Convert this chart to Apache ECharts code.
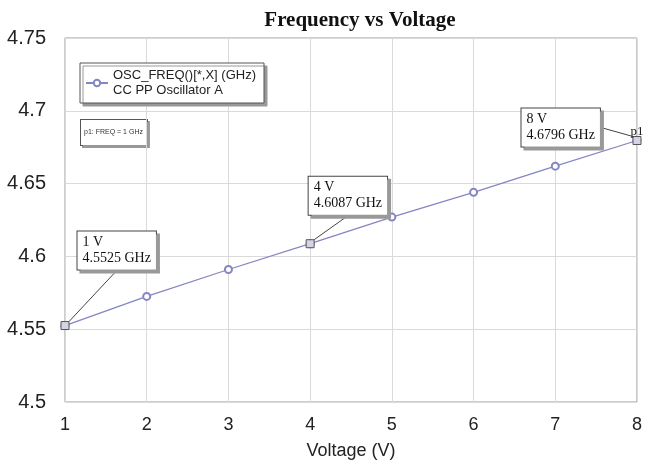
<!DOCTYPE html>
<html lang="en">
<head>
    <meta charset="UTF-8">
    <title>Frequency vs Voltage</title>
    <script src="https://cdn.jsdelivr.net/npm/echarts@6/dist/echarts.min.js"></script>
</head>
<body style="margin:0">
<div id="main" style="width: 645px;height:470px;"></div>

<script type="text/javascript">

    // chart data
    var voltages = [1, 2, 3, 4, 5, 6, 7, 8];
    var freqs = [4.5525, 4.5725, 4.591, 4.6087, 4.627, 4.644, 4.662, 4.6796];
    // marker points (index into the arrays above)
    var markerIdx = [0, 3, 7];
    var markerShift = [[8, -75], [-6, -48], [-120, -13]];

    var lineData = [];
    for (var i = 0; i < voltages.length; i++) {
        lineData.push([voltages[i], freqs[i]]);
    }
    var markData = [];
    for (var j = 0; j < markerIdx.length; j++) {
        var k = markerIdx[j];
        markData.push({
            value: [voltages[k], freqs[k]],
            name: voltages[k] + ' V\n' + freqs[k].toFixed(4) + ' GHz'
        });
    }

    var myChart = echarts.init(document.getElementById('main'));

    myChart.setOption({
        animation: false,
        title: {
            text: 'Frequency vs Voltage',
            left: 355,
            textAlign: 'center',
            top: 5,
            textStyle: {fontFamily: 'Liberation Serif', fontWeight: 'bold', fontSize: 21, color: '#111'}
        },
        grid: {
            left: 65, right: 3, top: 38, bottom: 68,
            show: true, borderColor: '#9a9a9a', borderWidth: 1
        },
        legend: {
            left: 80, top: 63,
            orient: 'vertical',
            data: ['OSC_FREQ()[*,X] (GHz)\nCC PP Oscillator A'],
            backgroundColor: '#fff',
            borderColor: '#555', borderWidth: 1,
            shadowColor: '#999', shadowOffsetX: 3, shadowOffsetY: 3, shadowBlur: 0,
            padding: [5, 8, 5, 5],
            itemWidth: 22, itemHeight: 8, itemGap: 2,
            textStyle: {fontFamily: 'Liberation Sans', fontSize: 13, color: '#222', lineHeight: 15}
        },
        xAxis: {
            type: 'value', min: 1, max: 8, interval: 1,
            name: 'Voltage (V)', nameLocation: 'middle', nameGap: 40,
            nameTextStyle: {fontFamily: 'Liberation Sans', fontSize: 18, color: '#222'},
            axisLine: {show: false}, axisTick: {show: false},
            axisLabel: {fontFamily: 'Liberation Sans', fontSize: 18, color: '#222', margin: 14},
            splitLine: {lineStyle: {color: '#dadada'}}
        },
        yAxis: {
            type: 'value', min: 4.5, max: 4.75, interval: 0.05,
            axisLine: {show: false}, axisTick: {show: false},
            axisLabel: {fontFamily: 'Liberation Sans', fontSize: 20, color: '#222', margin: 19},
            splitLine: {lineStyle: {color: '#dadada'}}
        },
        graphic: [{
            type: 'text',
            left: 80, top: 119,
            style: {
                text: 'p1: FREQ = 1 GHz',
                fontFamily: 'Liberation Sans', fontSize: 7, fill: '#333',
                backgroundColor: '#fff', borderColor: '#555', borderWidth: 1,
                padding: [9, 4, 9, 3],
                shadowColor: '#999', shadowOffsetX: 2, shadowOffsetY: 2
            }
        }],
        series: [{
            name: 'OSC_FREQ()[*,X] (GHz)\nCC PP Oscillator A',
            type: 'line',
            data: lineData,
            symbol: 'emptyCircle',
            symbolSize: 7,
            lineStyle: {color: '#8585c4', width: 1.3},
            itemStyle: {color: '#8585c4', borderWidth: 1}
        }, {
            name: 'markers',
            type: 'scatter',
            data: markData,
            symbol: 'rect',
            symbolSize: 8,
            itemStyle: {color: '#d4d4e6', borderColor: '#555', borderWidth: 1, opacity: 1},
            label: {
                show: true,
                position: 'right',
                distance: 0,
                formatter: '{b}',
                fontFamily: 'Liberation Serif', fontSize: 14, color: '#111', lineHeight: 16,
                backgroundColor: '#fff', borderColor: '#444', borderWidth: 1,
                padding: [4, 5, 2, 5],
                shadowColor: '#999', shadowOffsetX: 3, shadowOffsetY: 3, shadowBlur: 0
            },
            labelLine: {show: true, lineStyle: {color: '#444', width: 1}},
            labelLayout: function (params) {
                var s = markerShift[params.dataIndex];
                return {dx: s[0], dy: s[1]};
            },
            z: 5
        }, {
            name: 'p1',
            type: 'scatter',
            data: [[voltages[7], freqs[7]]],
            symbolSize: 1,
            itemStyle: {color: 'transparent', opacity: 1},
            label: {
                show: true, position: [-6, -15], formatter: 'p1',
                fontFamily: 'Liberation Serif', fontSize: 13, color: '#222'
            },
            z: 6
        }]
    });

</script>
</body>
</html>
